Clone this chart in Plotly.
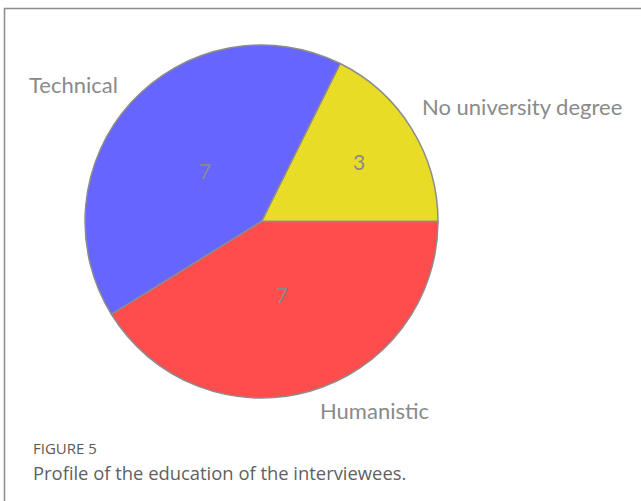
import math
import plotly.graph_objects as go

# Education profile of the interviewees
categories = ["No university degree", "Technical", "Humanistic"]
counts = [3, 7, 7]
slice_colors = ["#e8dc26", "#6666ff", "#ff4c4c"]

W, H = 641, 501
text_gray = "#8a8a8a"
label_font = dict(family="Lato, sans-serif", size=22, color=text_gray)
value_font = dict(family="Lato, sans-serif", size=21, color=text_gray)

# pie placement (pixels): centre and radius
cx, cy, r = 261.5, 221.5, 176.5
dom_x = [(cx - r) / W, (cx + r) / W]
dom_y = [1 - (cy + r) / H, 1 - (cy - r) / H]


def px(x, y):
    """pixel position -> paper coordinates"""
    return x / W, 1 - y / H


# first slice begins at 3 o'clock and runs counterclockwise
total = sum(counts)
start_rot = 90 - 360 * counts[0] / total

fig = go.Figure()
fig.add_trace(go.Pie(
    labels=categories, values=counts, sort=False,
    direction="counterclockwise", rotation=start_rot,
    marker=dict(colors=slice_colors, line=dict(color="#8c8c8c", width=1.5)),
    textinfo="none",
    domain=dict(x=dom_x, y=dom_y),
    showlegend=False, hoverinfo="skip",
))

annotations = []

# counts written along each slice's bisector
value_radius = {"No university degree": 0.65, "Technical": 0.43, "Humanistic": 0.43}
acc = 0
for cat, v in zip(categories, counts):
    mid = math.radians(360 * (acc + v / 2) / total)
    acc += v
    rr = value_radius[cat] * r
    x, y = px(cx + rr * math.cos(mid), cy - rr * math.sin(mid))
    annotations.append(dict(text=str(v), x=x, y=y, xref="paper", yref="paper",
                            xanchor="center", yanchor="middle",
                            showarrow=False, font=value_font))

# category names outside the pie
name_anchor = {
    "No university degree": (421, 106, "left"),
    "Technical": (119, 84, "right"),
    "Humanistic": (319, 410, "left"),
}
for cat in categories:
    ax, ay, side = name_anchor[cat]
    x, y = px(ax, ay)
    annotations.append(dict(text=cat, x=x, y=y, xref="paper", yref="paper",
                            xanchor=side, yanchor="middle", borderpad=0,
                            showarrow=False, font=label_font))

# caption
fx, fy = px(31, 448)
annotations.append(dict(text="FIGURE 5", x=fx, y=fy, xref="paper", yref="paper",
                        xanchor="left", yanchor="middle", showarrow=False,
                        font=dict(family="Open Sans, sans-serif", size=15,
                                  color="#5a5a5a")))
cx_, cy_ = px(31, 472)
annotations.append(dict(text="Profile of the education of the interviewees.",
                        x=cx_, y=cy_, xref="paper", yref="paper",
                        xanchor="left", yanchor="middle", showarrow=False,
                        font=dict(family="Open Sans, sans-serif", size=18.4,
                                  color="#5f5f5f")))

fig.update_layout(
    width=W, height=H,
    margin=dict(l=0, r=0, t=0, b=0),
    paper_bgcolor="white", plot_bgcolor="white",
    shapes=[dict(
        type="rect", xref="paper", yref="paper",
        x0=4.5 / W, x1=1.05, y0=-0.05, y1=1 - 8.5 / H,
        line=dict(color="#8c8c8c", width=1.5), fillcolor="rgba(0,0,0,0)",
    )],
    annotations=annotations,
)

fig.write_html("out.html")
